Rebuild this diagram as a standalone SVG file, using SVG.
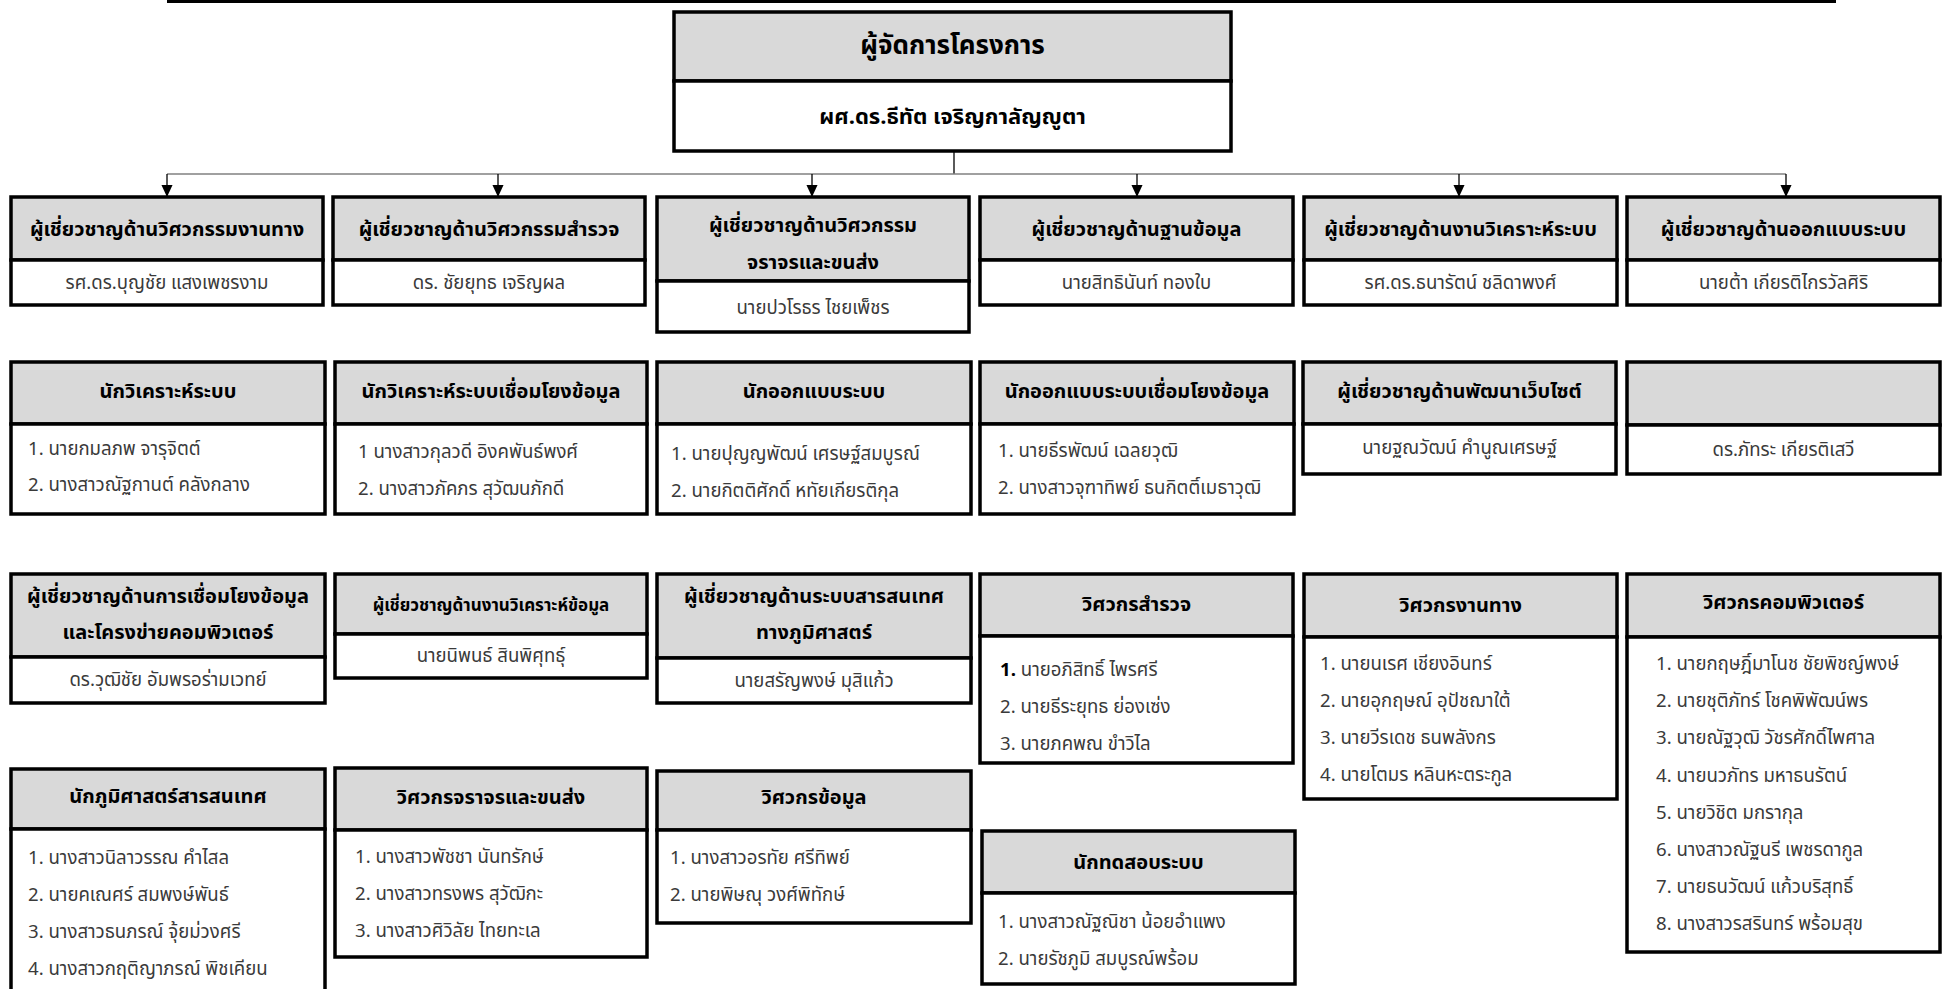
<svg xmlns="http://www.w3.org/2000/svg" width="1944" height="989" viewBox="0 0 1944 989">
<style>
.hd{fill:#d9d9d9;stroke:#000;stroke-width:3.5}
.bd{fill:#fff;stroke:#000;stroke-width:3.5}
text{font-family:"Noto Sans Thai","Noto Sans","DejaVu Sans",sans-serif;dominant-baseline:central}
.h{font-weight:bold;font-size:20px;fill:#000;text-anchor:middle}
.t{font-size:18.6px;fill:#3a3a3a}
.c{text-anchor:middle}
.conn{fill:none;stroke-width:1.3}
</style>
<defs>
<marker id="arr" markerUnits="userSpaceOnUse" markerWidth="12" markerHeight="13" viewBox="0 0 13 12" refX="13" refY="6" orient="auto">
<path d="M0,0 L13,6 L0,12 z" fill="#000"/>
</marker>
</defs>
<rect width="1944" height="989" fill="#fff"/>
<line x1="167" y1="1.5" x2="1836" y2="1.5" stroke="#000" stroke-width="3"/>

<g id="connectors">
<path class="conn" stroke="#000" d="M954 151 V174"/>
<path class="conn" stroke="#808080" d="M167 174 H1786"/>
<path class="conn" stroke="#000" marker-end="url(#arr)" d="M167 174 V197"/>
<path class="conn" stroke="#000" marker-end="url(#arr)" d="M498 174 V197"/>
<path class="conn" stroke="#000" marker-end="url(#arr)" d="M812 174 V197"/>
<path class="conn" stroke="#000" marker-end="url(#arr)" d="M1137 174 V197"/>
<path class="conn" stroke="#000" marker-end="url(#arr)" d="M1459 174 V197"/>
<path class="conn" stroke="#000" marker-end="url(#arr)" d="M1786 174 V197"/>
</g>

<g id="manager">
<rect class="hd" x="674" y="12" width="557" height="69"/>
<rect class="bd" x="674" y="81" width="557" height="70"/>
<text class="h" x="952.5" y="46" style="font-size:26px">ผู้จัดการโครงการ</text>
<text class="h" x="952.5" y="117" style="font-size:22px">ผศ.ดร.ธีทัต เจริญกาลัญญูตา</text>
</g>

<!-- Row 1 -->
<g id="r1b1">
<rect class="hd" x="11" y="197" width="312" height="63"/>
<rect class="bd" x="11" y="260" width="312" height="45"/>
<text class="h" x="167" y="230">ผู้เชี่ยวชาญด้านวิศวกรรมงานทาง</text>
<text class="t c" x="167" y="283">รศ.ดร.บุญชัย แสงเพชรงาม</text>
</g>
<g id="r1b2">
<rect class="hd" x="333" y="197" width="312" height="63"/>
<rect class="bd" x="333" y="260" width="312" height="45"/>
<text class="h" x="489" y="230">ผู้เชี่ยวชาญด้านวิศวกรรมสำรวจ</text>
<text class="t c" x="489" y="283">ดร. ชัยยุทธ เจริญผล</text>
</g>
<g id="r1b3">
<rect class="hd" x="657" y="197" width="312" height="84"/>
<rect class="bd" x="657" y="281" width="312" height="51"/>
<text class="h" x="813" y="226">ผู้เชี่ยวชาญด้านวิศวกรรม</text>
<text class="h" x="813" y="263">จราจรและขนส่ง</text>
<text class="t c" x="813" y="308">นายปวโรธร ไชยเพ็ชร</text>
</g>
<g id="r1b4">
<rect class="hd" x="980" y="197" width="313" height="63"/>
<rect class="bd" x="980" y="260" width="313" height="45"/>
<text class="h" x="1136.5" y="230">ผู้เชี่ยวชาญด้านฐานข้อมูล</text>
<text class="t c" x="1136.5" y="283">นายสิทธินันท์ ทองใบ</text>
</g>
<g id="r1b5">
<rect class="hd" x="1304" y="197" width="313" height="63"/>
<rect class="bd" x="1304" y="260" width="313" height="45"/>
<text class="h" x="1460.5" y="230">ผู้เชี่ยวชาญด้านงานวิเคราะห์ระบบ</text>
<text class="t c" x="1460.5" y="283">รศ.ดร.ธนารัตน์ ชลิดาพงศ์</text>
</g>
<g id="r1b6">
<rect class="hd" x="1627" y="197" width="313" height="63"/>
<rect class="bd" x="1627" y="260" width="313" height="45"/>
<text class="h" x="1783.5" y="230">ผู้เชี่ยวชาญด้านออกแบบระบบ</text>
<text class="t c" x="1783.5" y="283">นายต้า เกียรติไกรวัลศิริ</text>
</g>

<!-- Row 2 -->
<g id="r2b1">
<rect class="hd" x="11" y="362" width="314" height="62"/>
<rect class="bd" x="11" y="424" width="314" height="90"/>
<text class="h" x="168" y="392">นักวิเคราะห์ระบบ</text>
<text class="t" x="28" y="449">1. นายกมลภพ จารุจิตต์</text>
<text class="t" x="28" y="485">2. นางสาวณัฐกานต์ คลังกลาง</text>
</g>
<g id="r2b2">
<rect class="hd" x="335" y="362" width="312" height="62"/>
<rect class="bd" x="335" y="424" width="312" height="90"/>
<text class="h" x="491" y="392">นักวิเคราะห์ระบบเชื่อมโยงข้อมูล</text>
<text class="t" x="358" y="452">1 นางสาวกุลวดี อิงคพันธ์พงศ์</text>
<text class="t" x="358" y="489">2. นางสาวภัคภร สุวัฒนภักดี</text>
</g>
<g id="r2b3">
<rect class="hd" x="657" y="362" width="314" height="62"/>
<rect class="bd" x="657" y="424" width="314" height="90"/>
<text class="h" x="814" y="392">นักออกแบบระบบ</text>
<text class="t" x="671" y="454">1. นายปุญญพัฒน์ เศรษฐ์สมบูรณ์</text>
<text class="t" x="671" y="491">2. นายกิตติศักดิ์ หทัยเกียรติกุล</text>
</g>
<g id="r2b4">
<rect class="hd" x="980" y="362" width="314" height="62"/>
<rect class="bd" x="980" y="424" width="314" height="90"/>
<text class="h" x="1137" y="392">นักออกแบบระบบเชื่อมโยงข้อมูล</text>
<text class="t" x="998" y="451">1. นายธีรพัฒน์ เฉลยวุฒิ</text>
<text class="t" x="998" y="488">2. นางสาวจุฑาทิพย์ ธนกิตติ์เมธาวุฒิ</text>
</g>
<g id="r2b5">
<rect class="hd" x="1303" y="362" width="313" height="62"/>
<rect class="bd" x="1303" y="424" width="313" height="50"/>
<text class="h" x="1459.5" y="392">ผู้เชี่ยวชาญด้านพัฒนาเว็บไซต์</text>
<text class="t c" x="1459.5" y="448">นายฐณวัฒน์ คำนูณเศรษฐ์</text>
</g>
<g id="r2b6">
<rect class="hd" x="1627" y="362" width="313" height="63"/>
<rect class="bd" x="1627" y="425" width="313" height="49"/>
<text class="t c" x="1783.5" y="450">ดร.ภัทระ เกียรติเสวี</text>
</g>

<!-- Row 3 -->
<g id="r3b1">
<rect class="hd" x="11" y="574" width="314" height="83"/>
<rect class="bd" x="11" y="657" width="314" height="46"/>
<text class="h" x="168" y="597">ผู้เชี่ยวชาญด้านการเชื่อมโยงข้อมูล</text>
<text class="h" x="168" y="633">และโครงข่ายคอมพิวเตอร์</text>
<text class="t c" x="168" y="680">ดร.วุฒิชัย อัมพรอร่ามเวทย์</text>
</g>
<g id="r3b2">
<rect class="hd" x="335" y="574" width="312" height="60"/>
<rect class="bd" x="335" y="634" width="312" height="44"/>
<text class="h" x="491" y="606" style="font-size:17px">ผู้เชี่ยวชาญด้านงานวิเคราะห์ข้อมูล</text>
<text class="t c" x="491" y="656">นายนิพนธ์ สินพิศุทธุ์</text>
</g>
<g id="r3b3">
<rect class="hd" x="657" y="574" width="314" height="84"/>
<rect class="bd" x="657" y="658" width="314" height="45"/>
<text class="h" x="814" y="597">ผู้เชี่ยวชาญด้านระบบสารสนเทศ</text>
<text class="h" x="814" y="633">ทางภูมิศาสตร์</text>
<text class="t c" x="814" y="681">นายสรัญพงษ์ มุสิแก้ว</text>
</g>
<g id="r3b4">
<rect class="hd" x="980" y="574" width="313" height="62"/>
<rect class="bd" x="980" y="636" width="313" height="127"/>
<text class="h" x="1136.5" y="605">วิศวกรสำรวจ</text>
<text class="t" x="1000" y="670"><tspan font-weight="bold" fill="#000">1.</tspan> นายอภิสิทธิ์ ไพรศรี</text>
<text class="t" x="1000" y="707">2. นายธีระยุทธ ย่องเซ่ง</text>
<text class="t" x="1000" y="744">3. นายภคพณ ขำวิไล</text>
</g>
<g id="r3b5">
<rect class="hd" x="1304" y="574" width="313" height="63"/>
<rect class="bd" x="1304" y="637" width="313" height="162"/>
<text class="h" x="1460.5" y="606">วิศวกรงานทาง</text>
<text class="t" x="1320" y="664">1. นายนเรศ เชียงอินทร์</text>
<text class="t" x="1320" y="701">2. นายอุกฤษณ์ อุปัชฌาใต้</text>
<text class="t" x="1320" y="738">3. นายวีรเดช ธนพลังกร</text>
<text class="t" x="1320" y="775">4. นายโตมร หลินหะตระกูล</text>
</g>
<g id="r3b6">
<rect class="hd" x="1627" y="574" width="313" height="63"/>
<rect class="bd" x="1627" y="637" width="313" height="315"/>
<text class="h" x="1783.5" y="603">วิศวกรคอมพิวเตอร์</text>
<text class="t" x="1656" y="664">1. นายกฤษฎิ์มาโนช ชัยพิชญ์พงษ์</text>
<text class="t" x="1656" y="701">2. นายชุติภัทร์ โชคพิพัฒน์พร</text>
<text class="t" x="1656" y="738">3. นายณัฐวุฒิ วัชรศักดิ์ไพศาล</text>
<text class="t" x="1656" y="776">4. นายนวภัทร มหาธนรัตน์</text>
<text class="t" x="1656" y="813">5. นายวิชิต มกรากุล</text>
<text class="t" x="1656" y="850">6. นางสาวณัฐนรี เพชรดากูล</text>
<text class="t" x="1656" y="887">7. นายธนวัฒน์ แก้วบริสุทธิ์</text>
<text class="t" x="1656" y="924">8. นางสาวรสรินทร์ พร้อมสุข</text>
</g>

<!-- Row 4 -->
<g id="r4b1">
<rect class="hd" x="11" y="769" width="314" height="60"/>
<rect class="bd" x="11" y="829" width="314" height="175"/>
<text class="h" x="168" y="797">นักภูมิศาสตร์สารสนเทศ</text>
<text class="t" x="28" y="858">1. นางสาวนิลาวรรณ คำไสล</text>
<text class="t" x="28" y="895">2. นายคเณศร์ สมพงษ์พันธ์</text>
<text class="t" x="28" y="932">3. นางสาวธนภรณ์ จุ้ยม่วงศรี</text>
<text class="t" x="28" y="969">4. นางสาวกฤติญาภรณ์ พิชเคียน</text>
</g>
<g id="r4b2">
<rect class="hd" x="335" y="768" width="312" height="62"/>
<rect class="bd" x="335" y="830" width="312" height="127"/>
<text class="h" x="491" y="798">วิศวกรจราจรและขนส่ง</text>
<text class="t" x="355" y="857">1. นางสาวพัชชา นันทรักษ์</text>
<text class="t" x="355" y="894">2. นางสาวทรงพร สุวัฒิกะ</text>
<text class="t" x="355" y="931">3. นางสาวศิวิลัย ไทยทะเล</text>
</g>
<g id="r4b3">
<rect class="hd" x="657" y="771" width="314" height="59"/>
<rect class="bd" x="657" y="830" width="314" height="93"/>
<text class="h" x="814" y="798">วิศวกรข้อมูล</text>
<text class="t" x="670" y="858">1. นางสาวอรทัย ศรีทิพย์</text>
<text class="t" x="670" y="895">2. นายพิษณุ วงศ์พิทักษ์</text>
</g>
<g id="r4b4">
<rect class="hd" x="982" y="831" width="313" height="62"/>
<rect class="bd" x="982" y="893" width="313" height="91"/>
<text class="h" x="1138.5" y="863">นักทดสอบระบบ</text>
<text class="t" x="998" y="922">1. นางสาวณัฐณิชา น้อยอำแพง</text>
<text class="t" x="998" y="959">2. นายรัชภูมิ สมบูรณ์พร้อม</text>
</g>
</svg>
